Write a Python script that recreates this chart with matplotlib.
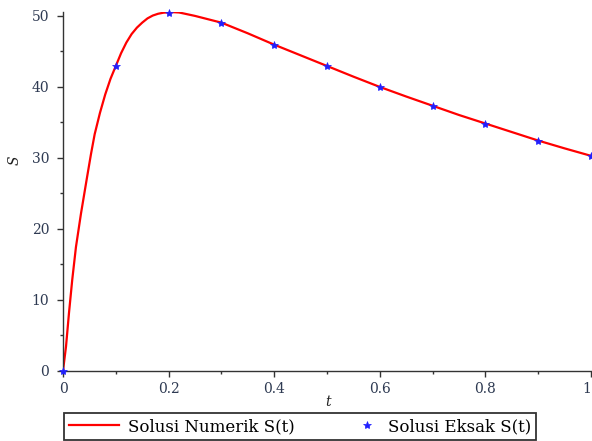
import matplotlib
matplotlib.use("Agg")
import matplotlib.pyplot as plt
from matplotlib.legend_handler import HandlerLine2D

# Numerical solution S(t)
t_num = [0, 0.0057, 0.0113, 0.0175, 0.0245, 0.034, 0.045, 0.053, 0.06, 0.07,
         0.08, 0.09, 0.1, 0.11, 0.12, 0.13, 0.14, 0.15, 0.16, 0.17, 0.18, 0.19,
         0.2, 0.21, 0.22, 0.25, 0.3, 0.35, 0.4, 0.45, 0.5, 0.55, 0.6, 0.65,
         0.7, 0.75, 0.8, 0.85, 0.9, 0.95, 1.0]
s_num = [0, 3.4, 8.1, 12.8, 17.4, 22.1, 27.0, 30.5, 33.3, 36.3,
         38.9, 41.1, 42.9, 44.7, 46.2, 47.4, 48.3, 49.0, 49.6, 50.0, 50.25, 50.4,
         50.45, 50.47, 50.43, 49.95, 49.0, 47.5, 45.9, 44.4, 42.9, 41.4, 39.95, 38.6,
         37.3, 36.0, 34.8, 33.6, 32.4, 31.3, 30.25]

# Exact solution S(t) (blue stars)
t_exact = [0, 0.1, 0.2, 0.3, 0.4, 0.5, 0.6, 0.7, 0.8, 0.9, 1.0]
s_exact = [0, 42.9, 50.4, 48.95, 45.9, 42.85, 39.95, 37.27, 34.8, 32.4, 30.2]

x_ticks = [0, 0.2, 0.4, 0.6, 0.8, 1]
x_ticklabels = ["0", "0.2", "0.4", "0.6", "0.8", "1"]
y_ticks = [0, 10, 20, 30, 40, 50]


class RightMarkerHandler(HandlerLine2D):
    def get_xdata(self, legend, xdescent, ydescent, width, height, fontsize):
        x = -xdescent + width * 0.78
        return [x], [x]


plt.rcParams['font.family'] = ['DejaVu Serif']

fig = plt.figure(figsize=(5.92, 4.41), dpi=100)
ax = fig.add_axes([63/592, 70.3/441, 528/592, 358.7/441])

line, = ax.plot(t_num, s_num, color='#ff0000', lw=1.6, label='Solusi Numerik S(t)',
                solid_joinstyle='round', zorder=2)
stars, = ax.plot(t_exact, s_exact, linestyle='none', marker='*', color='#2020ff',
                 markersize=6, markeredgewidth=0.5, label='Solusi Eksak S(t)',
                 clip_on=False, zorder=3)

ax.set_xlim(0, 1)
ax.set_ylim(0, 50.5)
for s in ['top', 'right']:
    ax.spines[s].set_visible(False)
for s in ['left', 'bottom']:
    ax.spines[s].set_color('#333333')
    ax.spines[s].set_linewidth(1.0)

tick_color = '#2e3a52'
ax.set_xticks(x_ticks)
ax.set_xticklabels(x_ticklabels)
ax.set_yticks(y_ticks)
ax.set_xticks([0.1, 0.3, 0.5, 0.7, 0.9], minor=True)
ax.set_yticks([5, 15, 25, 35, 45], minor=True)
ax.tick_params(axis='both', which='major', direction='out', length=4, width=1,
               color='#333333', labelsize=10, labelcolor=tick_color)
ax.tick_params(axis='y', which='major', pad=6)
ax.tick_params(axis='x', which='major', pad=4)
ax.tick_params(axis='both', which='minor', direction='out', length=2.5, width=1,
               color='#333333')
ax.get_xticklabels()[-1].set_horizontalalignment('right')

fig.text(328/592, 1 - 402/441, 't', fontsize=10, style='italic', ha='center',
         va='center', color='#222222')
fig.text(15/592, 1 - 160/441, 'S', fontsize=10, style='italic', ha='center',
         va='center', rotation=90, color='#222222')

leg = fig.legend(handles=[line, stars], loc='center',
                 bbox_to_anchor=(300/592, 1 - 426.5/441), ncol=2,
                 frameon=True, fancybox=False, edgecolor='black', fontsize=12,
                 handlelength=3.0, columnspacing=2.0, borderpad=0.28,
                 handletextpad=0.55, numpoints=1,
                 handler_map={stars: RightMarkerHandler(numpoints=1)})
leg.get_frame().set_linewidth(1.3)

fig.savefig('out.png', dpi=100)
